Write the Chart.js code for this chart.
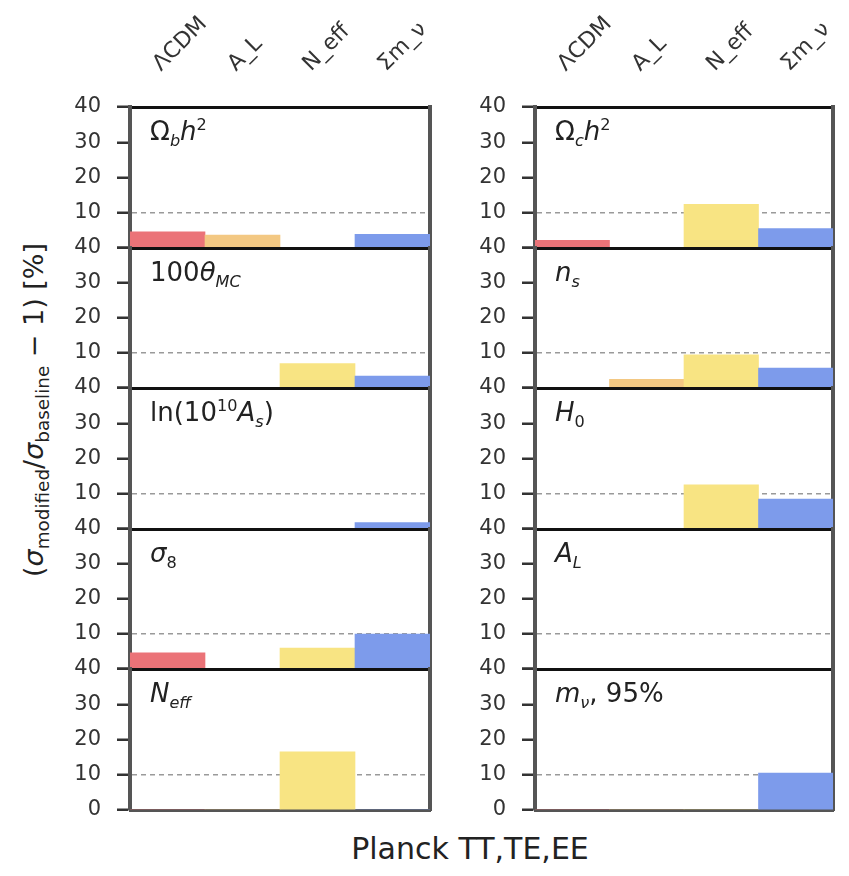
<!DOCTYPE html>
<html>
<head>
<meta charset="utf-8">
<script src="https://cdn.jsdelivr.net/npm/chart.js@4.4.1/dist/chart.umd.min.js"></script>
<style>
  body { margin: 0; background: #fff; font-family: "DejaVu Sans", sans-serif; }
  #fig { position: relative; width: 849px; height: 876px; overflow: hidden; background: #fff; }
  #fig canvas { position: absolute; }
  .plabel { position: absolute; font-size: 26px; line-height: 1; color: #222; white-space: nowrap; }
  .plabel sub, .plabel sup { font-size: 62%; line-height: 0; }
  #ytitle sub { font-size: 68%; line-height: 0; }
  #ytitle { position: absolute; left: 33px; top: 410px; font-size: 27px; color: #222; white-space: nowrap;
            transform: translate(-50%, -50%) rotate(-90deg); }
  #xtitle { position: absolute; left: 470px; top: 848px; font-size: 30px; color: #222; white-space: nowrap;
            transform: translate(-50%, -50%); }
</style>
</head>
<body>
<div id="fig">
  <div id="ytitle">(<i>σ</i><sub>modified</sub>/<i>σ</i><sub>baseline</sub> − 1) [%]</div>
  <div id="xtitle">Planck TT,TE,EE</div>
</div>
<script>
// model extensions (one bar each) and the y ticks shared by all panels
const categories = ['ΛCDM', 'A_L', 'N_eff', 'Σm_ν'];
const yTicks = [0, 10, 20, 30, 40];

// relative change of the error bar, in %, per parameter panel
const omegaB = [4.6, 3.7, 0, 3.9];
const omegaC = [2.2, 0, 12.4, 5.5];
const thetaMC = [0, 0, 7.0, 3.4];
const nS = [0, 2.5, 9.5, 5.7];
const lnAs = [0, 0, 0, 1.8];
const hubble = [0, 0, 12.5, 8.5];
const sigma8 = [4.6, 0, 6.0, 10.0];
const lensAmp = [0, 0, 0, 0];
const nEff = [0, 0, 16.5, 0];
const mNu = [0, 0, 0, 10.5];

const barColors = ['#eb7378', '#f3c883', '#f8e483', '#7d9beb'];

const panels = [
  { col: 0, row: 0, data: omegaB, label: 'Ω<sub><i>b</i></sub><i>h</i><sup>2</sup>' },
  { col: 1, row: 0, data: omegaC, label: 'Ω<sub><i>c</i></sub><i>h</i><sup>2</sup>' },
  { col: 0, row: 1, data: thetaMC, label: '100<i>θ</i><sub><i>MC</i></sub>' },
  { col: 1, row: 1, data: nS, label: '<i>n</i><sub><i>s</i></sub>' },
  { col: 0, row: 2, data: lnAs, label: 'ln(10<sup>10</sup><i>A</i><sub><i>s</i></sub>)' },
  { col: 1, row: 2, data: hubble, label: '<i>H</i><sub>0</sub>' },
  { col: 0, row: 3, data: sigma8, label: '<i>σ</i><sub>8</sub>' },
  { col: 1, row: 3, data: lensAmp, label: '<i>A</i><sub><i>L</i></sub>' },
  { col: 0, row: 4, data: nEff, label: '<i>N</i><sub><i>eff</i></sub>' },
  { col: 1, row: 4, data: mNu, label: '<i>m</i><sub><i>ν</i></sub>, 95%' }
];

// frame layout in page pixels
const rowEdges = [107, 248, 388, 529, 669, 810];
const colLeft = [130, 535];
const colRight = [430, 833];
const yAxisWidth = 90;
const pad = 15;

// stop Chart.js from shrinking the plot area for overhanging tick labels
function noOverhang(s) {
  s.paddingTop = 0;
  s.paddingBottom = 0;
  s.paddingLeft = 0;
  s.paddingRight = 0;
}

function makePanel(p) {
  const fig = document.getElementById('fig');
  const isTop = p.row === 0;
  const isBottom = p.row === 4;
  const top = rowEdges[p.row];
  const bottom = rowEdges[p.row + 1];
  const canvasLeft = colLeft[p.col] - yAxisWidth;
  const canvasTop = isTop ? 0 : top - pad;
  const width = colRight[p.col] + 12 - canvasLeft;
  const height = bottom + pad - canvasTop;

  const canvas = document.createElement('canvas');
  canvas.width = width;
  canvas.height = height;
  canvas.style.left = canvasLeft + 'px';
  canvas.style.top = canvasTop + 'px';
  canvas.style.width = width + 'px';
  canvas.style.height = height + 'px';
  fig.appendChild(canvas);

  const label = document.createElement('div');
  label.className = 'plabel';
  label.innerHTML = p.label;
  label.style.left = (colLeft[p.col] + 20) + 'px';
  label.style.top = (top + 11) + 'px';
  fig.appendChild(label);

  const tickFont = { family: 'DejaVu Sans', size: 21 };

  new Chart(canvas, {
    type: 'bar',
    data: {
      labels: categories,
      datasets: [{
        data: p.data,
        backgroundColor: barColors,
        borderWidth: 0,
        barPercentage: 1,
        categoryPercentage: 1
      }]
    },
    options: {
      responsive: false,
      animation: false,
      devicePixelRatio: 1,
      layout: { padding: { left: 0, right: 12, top: isTop ? 0 : pad, bottom: pad } },
      plugins: { legend: { display: false }, tooltip: { enabled: false } },
      scales: {
        x: {
          position: 'bottom',
          ticks: { display: false },
          grid: { display: false, drawTicks: false },
          border: { display: true, color: isBottom ? '#555' : '#111', width: 3 },
          afterFit: s => { s.height = 0; noOverhang(s); }
        },
        x2: {
          position: 'top',
          type: 'category',
          labels: categories,
          ticks: {
            display: isTop,
            autoSkip: false,
            minRotation: 45,
            maxRotation: 45,
            padding: 30,
            labelOffset: 8,
            color: '#333',
            font: { family: 'DejaVu Sans', size: 22 }
          },
          grid: { display: false, drawTicks: false },
          border: { display: true, color: '#111', width: 3 },
          afterFit: s => { s.height = isTop ? top : 0; noOverhang(s); }
        },
        y: {
          min: 0,
          max: 40,
          afterBuildTicks: s => { s.ticks = yTicks.map(v => ({ value: v })); },
          ticks: {
            padding: 16,
            color: '#333',
            font: tickFont,
            callback: v => (v === 0 && !isBottom) ? '' : v
          },
          grid: {
            color: ctx => ctx.tick && ctx.tick.value === 10 ? '#9a9a9a' : 'rgba(0,0,0,0)',
            lineWidth: 1.5,
            tickColor: '#333',
            tickWidth: 2.5,
            tickLength: 13,
            tickBorderDash: []
          },
          border: { display: true, color: '#555', width: 4, dash: [5, 4] },
          afterFit: s => { s.width = yAxisWidth; noOverhang(s); }
        },
        y2: {
          position: 'right',
          ticks: { display: false },
          grid: { display: false, drawTicks: false },
          border: { display: true, color: '#555', width: 4 },
          afterFit: s => { s.width = 0; noOverhang(s); }
        }
      }
    }
  });
}

panels.forEach(makePanel);
</script>
</body>
</html>
